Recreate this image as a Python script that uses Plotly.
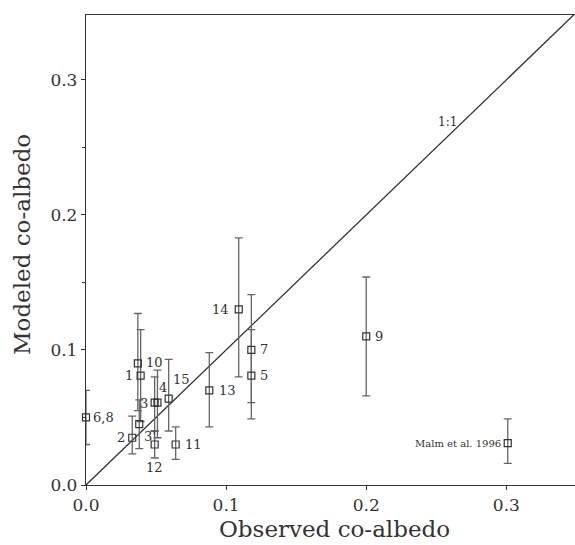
import plotly.graph_objects as go

labels = ["6,8", "2", "3'", "1", "10", "3", "4", "12", "15", "11", "13", "14", "7", "5", "9", "Malm et al. 1996"]
observed = [0.0, 0.033, 0.038, 0.039, 0.037, 0.049, 0.051, 0.049, 0.059, 0.064, 0.088, 0.109, 0.118, 0.118, 0.200, 0.301]
modeled = [0.050, 0.035, 0.045, 0.081, 0.090, 0.061, 0.061, 0.030, 0.064, 0.030, 0.070, 0.130, 0.100, 0.081, 0.110, 0.031]
err_hi = [0.070, 0.051, 0.063, 0.115, 0.127, 0.080, 0.085, 0.040, 0.093, 0.043, 0.098, 0.183, 0.141, 0.115, 0.154, 0.049]
err_lo = [0.030, 0.023, 0.027, 0.047, 0.055, 0.040, 0.035, 0.020, 0.040, 0.019, 0.043, 0.080, 0.061, 0.049, 0.066, 0.016]

# label placement (pixel shifts and anchor) — styling only
label_pos = {
    "6,8": (5, 0, "left"), "2": (-5, 0, "right"), "3'": (3, -12, "left"),
    "1": (-6, 0, "right"), "10": (6, 1, "left"), "3": (-5, -1, "right"),
    "4": (0, 15, "left"), "12": (0, -23, "center"), "15": (2, 19, "left"),
    "11": (7, 0, "left"), "13": (8, 0, "left"), "14": (-8, 0, "right"),
    "7": (7, 0, "left"), "5": (7, 0, "left"), "9": (7, 0, "left"),
    "Malm et al. 1996": (-5, 0, "right"),
}

one_to_one = [0.0, 0.35]

serif = "DejaVu Serif"
ink = "#333333"
fig = go.Figure()
fig.add_trace(go.Scatter(x=one_to_one, y=one_to_one, mode="lines",
                         line=dict(color=ink, width=1.3), hoverinfo="skip"))
fig.add_trace(go.Scatter(
    x=observed, y=modeled, mode="markers",
    marker=dict(symbol="square-open", size=7, color=ink, line=dict(width=1.2)),
    error_y=dict(type="data", symmetric=False,
                 array=[h - m for h, m in zip(err_hi, modeled)],
                 arrayminus=[m - l for m, l in zip(modeled, err_lo)],
                 color="#666666", thickness=1.3, width=4),
    cliponaxis=False,
))

for lab, xv, yv in zip(labels, observed, modeled):
    dx, dy, anc = label_pos[lab]
    small = lab.startswith("Malm")
    fig.add_annotation(x=xv, y=yv, text=lab, showarrow=False, xanchor=anc,
                       xshift=dx, yshift=dy,
                       font=dict(family=serif, size=10 if small else 13, color=ink))

fig.add_annotation(x=0.258, y=0.269, text="1:1", showarrow=False,
                   font=dict(family=serif, size=12, color=ink))

# axis titles as paper-anchored text
fig.add_annotation(x=0.5, y=0, xref="paper", yref="paper", yanchor="middle",
                   yshift=-44, xshift=4, text="Observed co-albedo", showarrow=False,
                   font=dict(family=serif, size=23, color=ink))
fig.add_annotation(x=0, y=0.5, xref="paper", yref="paper", xanchor="center",
                   xshift=-64, yshift=5, textangle=-90, text="Modeled co-albedo",
                   showarrow=False, font=dict(family=serif, size=23, color=ink))

axis_common = dict(range=[0, 0.349], showgrid=False, zeroline=False, automargin=False,
                   showline=True, linecolor=ink, linewidth=1.3, mirror=True,
                   ticks="outside", ticklen=4, tickcolor=ink,
                   tickfont=dict(family=serif, size=17, color=ink),
                   tickformat=".1f", dtick=0.1, tick0=0)
fig.update_xaxes(**axis_common)
fig.update_yaxes(**{**axis_common, "range": [0, 0.348]},
                 minor=dict(dtick=0.05, ticks="outside", ticklen=3, tickcolor=ink))

fig.update_layout(width=575, height=545, showlegend=False,
                  plot_bgcolor="white", paper_bgcolor="white",
                  margin=dict(l=86, r=0, t=15, b=60, autoexpand=False))
fig.write_html("out.html", config={"displayModeBar": False},
               post_script="document.body.style.margin='0';")
